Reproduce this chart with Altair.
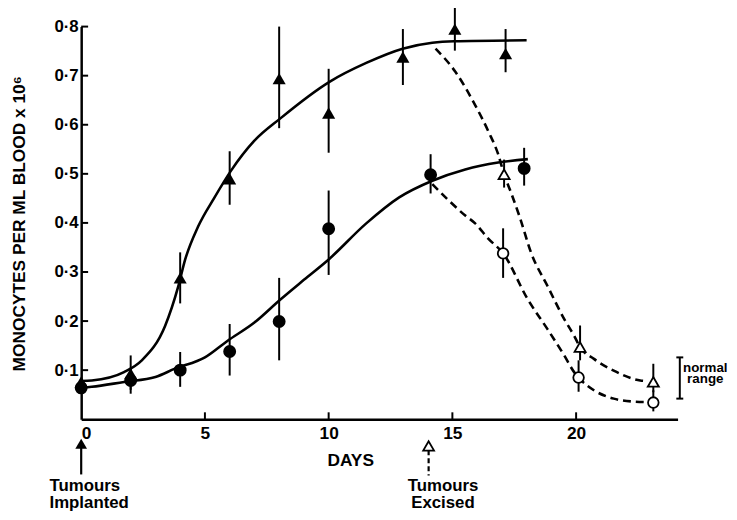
import altair as alt
import pandas as pd

FONT = "Liberation Sans"

# ---------------- data ----------------
# filled triangles (with tumour)
tri_day = [0, 2, 4, 6, 8, 10, 13, 15.1, 17.15]
tri_val = [0.076, 0.093, 0.288, 0.49, 0.694, 0.624, 0.738, 0.795, 0.745]
tri_lo = [0.076, 0.06, 0.236, 0.437, 0.593, 0.543, 0.681, 0.751, 0.707]
tri_hi = [0.076, 0.13, 0.34, 0.546, 0.80, 0.714, 0.795, 0.839, 0.795]

# filled circles
cir_day = [0, 2, 4, 6, 8, 10, 14.12, 17.9]
cir_val = [0.064, 0.079, 0.10, 0.138, 0.199, 0.388, 0.498, 0.511]
cir_lo = [0.064, 0.052, 0.066, 0.089, 0.12, 0.294, 0.46, 0.476]
cir_hi = [0.064, 0.105, 0.137, 0.194, 0.288, 0.466, 0.54, 0.553]

# open triangles (after excision)
otri_day = [17.09, 20.16, 23.12]
otri_val = [0.499, 0.147, 0.076]
otri_lo = [0.472, 0.12, 0.055]
otri_hi = [0.529, 0.191, 0.113]

# open circles (after excision)
ocir_day = [17.05, 20.1, 23.12]
ocir_val = [0.338, 0.085, 0.034]
ocir_lo = [0.288, 0.056, 0.016]
ocir_hi = [0.389, 0.12, 0.059]

# fitted solid curves
stri_day = [0, 0.43, 1.73, 2.45, 3.39, 3.92, 4.2, 4.72, 5.39, 6.05, 6.99, 8.05,
            10.05, 11.52, 12.99, 14.19, 15.07, 18.0]
stri_val = [0.078, 0.079, 0.096, 0.12, 0.19, 0.27, 0.325, 0.392, 0.452, 0.506,
            0.567, 0.613, 0.688, 0.726, 0.755, 0.767, 0.770, 0.772]
scir_day = [0, 0.43, 1.73, 3.0, 3.79, 5.0, 5.92, 7.0, 8.05, 9.0, 9.99, 11.52,
            12.85, 14.19, 15.52, 16.85, 18.05]
scir_val = [0.064, 0.066, 0.076, 0.086, 0.103, 0.126, 0.16, 0.197, 0.244, 0.284,
            0.325, 0.399, 0.452, 0.486, 0.509, 0.523, 0.53]

# dashed curves after excision
dtri_day = [14.32, 15.12, 15.92, 16.45, 16.85, 17.09, 17.39, 17.72, 18.19, 18.85,
            19.52, 19.92, 20.16, 20.72, 21.52, 22.59, 22.8]
dtri_val = [0.755, 0.708, 0.64, 0.587, 0.54, 0.499, 0.459, 0.412, 0.338, 0.271,
            0.204, 0.17, 0.147, 0.123, 0.099, 0.079, 0.078]
dcir_day = [14.19, 14.85, 15.52, 15.92, 16.45, 17.05, 18.05, 18.85, 19.52, 19.92,
            20.1, 20.72, 21.52, 22.32, 22.85]
dcir_val = [0.479, 0.446, 0.415, 0.399, 0.368, 0.338, 0.244, 0.183, 0.13, 0.096,
            0.085, 0.059, 0.042, 0.036, 0.035]

x_ticks = [5, 10, 15, 20]
x_labels = [0, 5, 10, 15, 20]
y_ticks = [0.1, 0.2, 0.3, 0.4, 0.5, 0.6, 0.7, 0.8]

normal_lo, normal_hi, normal_day = 0.042, 0.126, 24.19

# ---------------- chart ----------------
xs = alt.Scale(domain=[0, 24.1], nice=False, zero=False)
ys = alt.Scale(domain=[0, 0.8], nice=False, zero=False)

x_axis = alt.Axis(values=x_labels, grid=False, ticks=False, tickSize=0, domainWidth=2.5,
                  domainColor="black", labelFont=FONT, labelFontSize=17.5,
                  labelFontWeight="bold", labelColor="black",
                  labelPadding=5, title="DAYS", titleFont=FONT, titleFontSize=17.5,
                  titleFontWeight="bold", titleColor="black", titleX=272, titleY=42,
                  titleAlign="center", titleBaseline="middle")
y_axis = alt.Axis(values=y_ticks, grid=False, ticks=False, tickSize=0, domainWidth=2.5,
                  domainColor="black", labelFont=FONT, labelFontSize=17,
                  labelFontWeight="bold", labelColor="black",
                  labelPadding=3,
                  labelExpr="replace(format(datum.value, '.1f'), '.', '\u00b7')",
                  title="MONOCYTES PER ML BLOOD x 10\u2076", titleFont=FONT, titleFontSize=17.5,
                  titleFontWeight="bold", titleColor="black", titleAngle=270,
                  titleX=-62, titleY=199, titleAlign="center", titleBaseline="middle")


def X(field="d"):
    return alt.X(f"{field}:Q", scale=xs, axis=x_axis)


def Y(field="v"):
    return alt.Y(f"{field}:Q", scale=ys, axis=y_axis)


def curve_df(days, vals, name):
    return pd.DataFrame({"d": days, "v": vals, "s": name})


solid = pd.concat([curve_df(stri_day, stri_val, "tri"), curve_df(scir_day, scir_val, "cir")])
dashed = pd.concat([curve_df(dtri_day, dtri_val, "tri"), curve_df(dcir_day, dcir_val, "cir")])

solid_layer = alt.Chart(solid).mark_line(color="black", strokeWidth=2.6, interpolate="monotone").encode(
    x=X(), y=Y(), detail="s:N")
dashed_layer = alt.Chart(dashed).mark_line(color="black", strokeWidth=2.6, strokeDash=[8, 5],
                                           interpolate="monotone").encode(
    x=X(), y=Y(), detail="s:N")

# inward ticks
ytick_df = pd.DataFrame({"v": y_ticks, "d": [0] * len(y_ticks), "d1": [0.28] * len(y_ticks)})
xtick_df = pd.DataFrame({"d": x_ticks, "v": [0] * len(x_ticks), "v1": [0.0141] * len(x_ticks)})
ytick_layer = alt.Chart(ytick_df).mark_rule(color="black", strokeWidth=2).encode(
    x=X(), x2="d1:Q", y=Y())
xtick_layer = alt.Chart(xtick_df).mark_rule(color="black", strokeWidth=2).encode(
    x=X(), y=Y(), y2="v1:Q")


def pts_df(days, vals, lo, hi):
    return pd.DataFrame({"d": days, "v": vals, "lo": lo, "hi": hi})


tri = pts_df(tri_day, tri_val, tri_lo, tri_hi)
cir = pts_df(cir_day, cir_val, cir_lo, cir_hi)
otri = pts_df(otri_day, otri_val, otri_lo, otri_hi)
ocir = pts_df(ocir_day, ocir_val, ocir_lo, ocir_hi)
allpts = pd.concat([tri, cir, otri, ocir])

err_layer = alt.Chart(allpts).mark_rule(color="black", strokeWidth=2).transform_calculate(
    v="datum.lo").encode(x=X(), y=Y(), y2="hi:Q")

tri_layer = alt.Chart(tri).mark_point(shape="triangle-up", filled=True, color="black",
                                      size=175, opacity=1).encode(x=X(), y=Y())
cir_layer = alt.Chart(cir).mark_point(shape="circle", filled=True, color="black",
                                      size=170, opacity=1).encode(x=X(), y=Y())
otri_layer = alt.Chart(otri).mark_point(shape="triangle-up", filled=True, fill="white",
                                        stroke="black", strokeWidth=1.8, size=125,
                                        opacity=1).encode(x=X(), y=Y())
ocir_layer = alt.Chart(ocir).mark_point(shape="circle", filled=True, fill="white",
                                        stroke="black", strokeWidth=1.8, size=115,
                                        opacity=1).encode(x=X(), y=Y())

# normal range bracket
nr_df = pd.DataFrame({"d": [normal_day], "v": [normal_lo], "hi": [normal_hi]})
caps_df = pd.DataFrame({"d": [24.05, 24.05], "d1": [24.33, 24.33], "v": [normal_lo, normal_hi]})
nr_layer = alt.Chart(nr_df).mark_rule(color="black", strokeWidth=2).encode(
    x=X(), y=Y(), y2="hi:Q")
caps_layer = alt.Chart(caps_df).mark_rule(color="black", strokeWidth=2).encode(
    x=X(), x2="d1:Q", y=Y())
nr_text = pd.DataFrame({"d": [25.22, 25.22], "v": [0.0957, 0.0736], "t": ["normal", "range"]})
nr_text_layer = alt.Chart(nr_text).mark_text(font=FONT, fontSize=13.5, fontWeight="bold",
                                             align="center", baseline="alphabetic",
                                             color="black").encode(
    x=X(), y=Y(), text="t:N")

# annotations below the axis
imp_head = pd.DataFrame({"d": [0], "v": [-0.05]})
imp_shaft = pd.DataFrame({"d": [0], "v": [-0.058], "hi": [-0.1125]})
exc_head = pd.DataFrame({"d": [14.04], "v": [-0.0544]})
exc_shaft = pd.DataFrame({"d": [14.04], "v": [-0.0635], "hi": [-0.1145]})

imp_head_layer = alt.Chart(imp_head).mark_point(shape="triangle-up", filled=True, color="black",
                                                size=140, opacity=1).encode(x=X(), y=Y())
imp_shaft_layer = alt.Chart(imp_shaft).mark_rule(color="black", strokeWidth=2.2).encode(
    x=X(), y=Y(), y2="hi:Q")
exc_head_layer = alt.Chart(exc_head).mark_point(shape="triangle-up", filled=True, fill="white",
                                                stroke="black", strokeWidth=1.8, size=120,
                                                opacity=1).encode(x=X(), y=Y())
exc_shaft_layer = alt.Chart(exc_shaft).mark_rule(color="black", strokeWidth=2.2,
                                                 strokeDash=[5, 3]).encode(
    x=X(), y=Y(), y2="hi:Q")

imp_text = pd.DataFrame({"d": [-1.28, -1.28], "v": [-0.1471, -0.1814], "t": ["Tumours", "Implanted"]})
exc_text = pd.DataFrame({"d": [14.62, 14.62], "v": [-0.1471, -0.1814], "t": ["Tumours", "Excised"]})
imp_text_layer = alt.Chart(imp_text).mark_text(font=FONT, fontSize=17, fontWeight="bold",
                                               align="left", baseline="alphabetic",
                                               color="black").encode(
    x=X(), y=Y(), text="t:N")
exc_text_layer = alt.Chart(exc_text).mark_text(font=FONT, fontSize=17, fontWeight="bold",
                                               align="center", baseline="alphabetic",
                                               color="black").encode(
    x=X(), y=Y(), text="t:N")

chart = alt.layer(
    solid_layer, dashed_layer, ytick_layer, xtick_layer, err_layer,
    tri_layer, cir_layer, otri_layer, ocir_layer,
    nr_layer, caps_layer, nr_text_layer,
    imp_shaft_layer, imp_head_layer, exc_shaft_layer, exc_head_layer,
    imp_text_layer, exc_text_layer,
).properties(
    width=603, height=397,
    padding={"left": 74, "top": 16, "right": 52, "bottom": 91},
    autosize=alt.AutoSizeParams(type="none"),
    background="white",
).configure_view(stroke=None)

chart.save("out.html", embed_options={"renderer": "svg", "actions": False})
